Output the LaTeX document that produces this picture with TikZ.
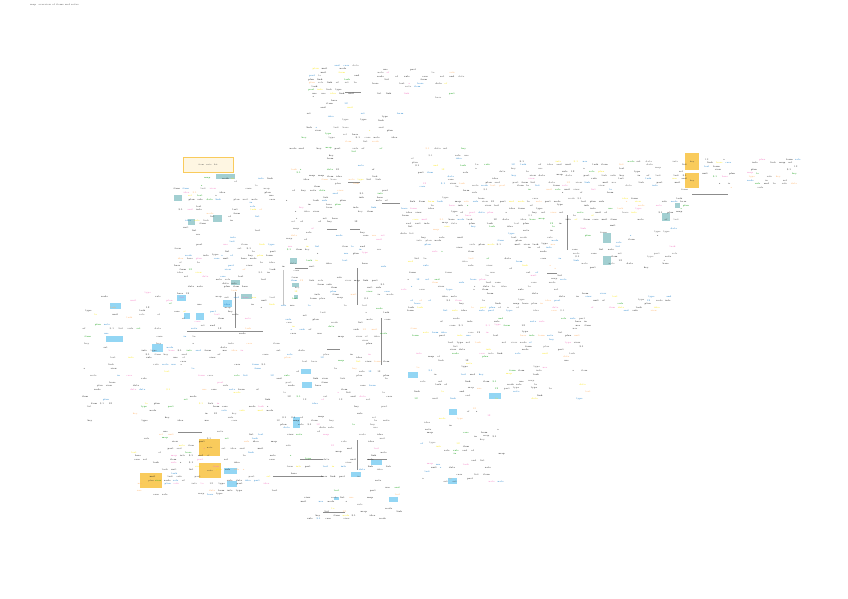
\documentclass[tikz,border=0pt]{standalone}
\usetikzlibrary{positioning}

\definecolor{mapyellow}{HTML}{F9CB5C}
\definecolor{mapblue}{HTML}{93D6F4}
\definecolor{mapteal}{HTML}{A2CFD1}
\definecolor{mapline}{HTML}{8C8C8C}

\tikzset{
  tinytext/.style={font=\fontsize{2.4}{2.6}\selectfont, inner sep=0pt},
  yelbox/.style={fill=mapyellow, inner sep=0pt, anchor=north west, font=\fontsize{2.1}{2.3}\selectfont, text=black!80},
  bluebox/.style={fill=mapblue, inner sep=0pt, anchor=north west, font=\fontsize{2.1}{2.3}\selectfont, text=black!80},
  tealbox/.style={fill=mapteal, inner sep=0pt, anchor=north west, font=\fontsize{2.1}{2.3}\selectfont, text=black!80},
  thickline/.style={draw=mapline, line width=1pt},
}

\pgfmathdeclarerandomlist{words}{{item}{note}{data}{list}{case}{type}{rule}{use}{key}{info}{set}{form}{map}{link}{part}{unit}{test}{plan}{task}{role}{base}{view}{node}{idea}{a}{of}{in}{to}{and}{12}{3.1}}
\pgfmathdeclarerandomlist{inks}{{black!90}{black!90}{black!90}{black!90}{black!90}{black!75}{black!75}{black!65}{black!90}{black!90}{black!75}{black!90}{cyan!60!blue}{cyan!60!blue}{magenta!55}{orange!60}{yellow!90!orange}{green!60!black}}

\begin{document}
\begin{tikzpicture}[x=1pt,y=-1pt]
\useasboundingbox[fill=white] (0,0) rectangle (848,599);

% title
\node[tinytext, anchor=west, text=black!70] (title) at (30,5) {map\quad overview of items and notes};

% coloured boxes
\node[yelbox, minimum width=50, minimum height=15, fill=mapyellow!18, draw=mapyellow, text=black!70] (yb1) at (183,157) {item\quad note\quad list};
\node[yelbox, minimum width=14, minimum height=17] (yb2) at (685,153) {key};
\node[yelbox, minimum width=14, minimum height=15] (yb3) at (685,173) {key};
\node[yelbox, minimum width=21, minimum height=17] (yb4) at (199,439) {note};
\node[yelbox, minimum width=22, minimum height=15] (yb5) at (199,463) {note};
\node[yelbox, minimum width=22, minimum height=15] (yb6) at (140,473) {plan};

\foreach \x/\y/\w/\h [count=\i] in {216/174/19/5, 174/195/8/6, 188/219/7/6, 213/215/9/7,
    241/294/11/5, 231/280/9/5, 290/258/7/6, 292/283/7/4, 294/295/4/4,
    603/233/8/10, 603/256/8/9, 662/213/8/8, 675/203/5/5}
  \node[tealbox, minimum width=\w, minimum height=\h] (tb\i) at (\x,\y) {};

\foreach \x/\y/\w/\h [count=\i] in {110/303/11/6, 177/295/9/6, 223/300/9/7, 184/313/6/6,
    196/313/8/7, 106/336/17/6, 152/344/11/8, 301/369/10/5, 302/382/10/6,
    293/417/7/11, 224/468/13/6, 227/481/10/6, 408/372/10/6, 489/393/12/6,
    449/409/8/6, 448/478/9/6, 371/459/11/6, 351/472/10/5, 334/497/5/3, 389/497/9/5}
  \node[bluebox, minimum width=\w, minimum height=\h] (bb\i) at (\x,\y) {};

% thick branch lines
\coordinate (h1a) at (345,93);  \coordinate (h1b) at (361,93);
\coordinate (h2a) at (348,182); \coordinate (h2b) at (360,182);
\coordinate (h3a) at (382,203); \coordinate (h3b) at (400,203);
\coordinate (h4a) at (327,229); \coordinate (h4b) at (337,229);
\coordinate (h5a) at (350,229); \coordinate (h5b) at (360,229);
\coordinate (h6a) at (692,194); \coordinate (h6b) at (728,194);
\coordinate (h7a) at (187,331); \coordinate (h7b) at (263,331);
\coordinate (h8a) at (295,268); \coordinate (h8b) at (308,268);
\coordinate (h9a) at (327,349); \coordinate (h9b) at (340,349);
\coordinate (h10a) at (273,476); \coordinate (h10b) at (323,476);
\coordinate (h11a) at (300,459); \coordinate (h11b) at (323,459);
\coordinate (h12a) at (323,512); \coordinate (h12b) at (345,512);
\coordinate (h13a) at (547,273); \coordinate (h13b) at (557,273);
\coordinate (h14a) at (367,459); \coordinate (h14b) at (387,459);
\coordinate (h15a) at (178,432); \coordinate (h15b) at (202,432);
\coordinate (v1a) at (357,268); \coordinate (v1b) at (357,305);
\coordinate (v2a) at (381,318); \coordinate (v2b) at (381,365);
\coordinate (v3a) at (235,292); \coordinate (v3b) at (235,328);
\coordinate (v4a) at (567,215); \coordinate (v4b) at (567,250);
\coordinate (v5a) at (357,440); \coordinate (v5b) at (357,470);
\coordinate (v6a) at (283,270); \coordinate (v6b) at (283,305);

\foreach \n in {h1,h2,h3,h4,h5,h6,h7,h8,h9,h10,h11,h12,h13,h14,h15,v1,v2,v3,v4,v5}
  \draw[thickline] (\n a) -- (\n b);
\draw[draw=mapline!50, line width=.6pt] (v6a) -- (v6b);

% scattered labels of the branches, rows with a random shift
\pgfmathsetseed{2718}
\foreach \cx/\cy/\cols/\rows/\p [count=\c] in {
    305/62/6/13/.32, 370/66/10/9/.32, 300/110/11/9/.30,
    285/145/12/33/.32, 404/145/7/13/.30, 470/158/24/10/.36, 700/156/11/9/.32,
    400/195/32/7/.42, 400/220/18/26/.28, 570/222/13/13/.22,
    172/175/11/44/.28, 80/290/10/11/.20, 80/330/22/26/.22,
    280/260/12/63/.30, 130/428/16/19/.26, 300/484/11/10/.30,
    410/315/20/24/.24, 420/405/9/22/.22, 572/290/11/6/.30}
{
  \foreach \r in {1,...,\rows}{
    \pgfmathsetmacro\rowshift{8*rnd}
    \pgfmathsetmacro\rowp{\p*(0.3+1.4*rnd)}
    \foreach \k in {1,...,\cols}{
      \pgfmathparse{rnd<\rowp ? 1 : 0}
      \ifnum\pgfmathresult=1
        \pgfmathrandomitem\mapword{words}
        \pgfmathrandomitem\mapink{inks}
        \node[tinytext, text=\mapink, anchor=west] (w\c-\r-\k) at (\cx+9*\k-9+\rowshift,\cy+3.5*\r) {\mapword};
      \fi
    }
  }
}

\end{tikzpicture}
\end{document}
